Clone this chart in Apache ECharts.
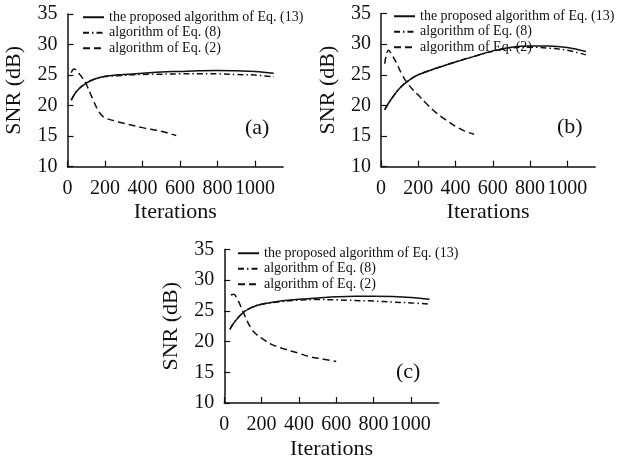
<!DOCTYPE html>
<html><head><meta charset="utf-8">
<script src="https://cdn.jsdelivr.net/npm/echarts@6/dist/echarts.min.js"></script>
<style>html,body{margin:0;padding:0;background:#fff}#c{width:623px;height:461px}</style>
</head><body><div id="c"></div>
<script>
const seriesNames = ['the proposed algorithm of Eq. (13)', 'algorithm of Eq. (8)', 'algorithm of Eq. (2)'];
const xTicks = [0, 200, 400, 600, 800, 1000];
const yTicks = [10, 15, 20, 25, 30, 35];
const panelLabels = ['(a)', '(b)', '(c)'];

// panel (a)
const aPropX = [20, 50, 100, 150, 200, 300, 400, 500, 600, 700, 800, 900, 1000, 1100];
const aPropY = [20.9, 22.4, 23.7, 24.4, 24.8, 25.1, 25.3, 25.5, 25.6, 25.7, 25.75, 25.7, 25.6, 25.3];
const aEq8X = [20, 50, 100, 150, 200, 300, 400, 500, 600, 700, 800, 900, 1000, 1100];
const aEq8Y = [20.9, 22.4, 23.7, 24.4, 24.75, 24.95, 25.1, 25.15, 25.2, 25.2, 25.2, 25.1, 25.0, 24.7];
const aEq2X = [20, 35, 60, 80, 100, 120, 140, 160, 180, 200, 250, 300, 400, 500, 580];
const aEq2Y = [25.4, 26.0, 25.3, 24.5, 23.5, 22.1, 20.7, 19.4, 18.5, 18.0, 17.5, 17.1, 16.4, 15.8, 15.1];

// panel (b)
const bPropX = [20, 50, 100, 150, 200, 300, 400, 500, 600, 700, 800, 900, 1000, 1100];
const bPropY = [19.3, 20.8, 22.8, 24.1, 25.0, 26.1, 27.1, 28.0, 28.9, 29.5, 29.7, 29.7, 29.45, 28.8];
const bEq8X = [20, 50, 100, 150, 200, 300, 400, 500, 600, 700, 800, 900, 1000, 1100];
const bEq8Y = [19.3, 20.8, 22.8, 24.1, 25.0, 26.1, 27.1, 28.0, 28.85, 29.4, 29.5, 29.35, 29.0, 28.25];
const bEq2X = [20, 40, 60, 85, 110, 140, 170, 200, 250, 300, 350, 400, 450, 500];
const bEq2Y = [26.8, 29.0, 28.2, 26.8, 25.2, 23.7, 22.6, 21.7, 20.1, 18.7, 17.6, 16.6, 15.8, 15.3];

// panel (c)
const cPropX = [30, 50, 100, 150, 200, 300, 400, 500, 600, 700, 800, 900, 1000, 1100];
const cPropY = [22.0, 23.0, 24.7, 25.6, 26.1, 26.6, 26.9, 27.1, 27.3, 27.4, 27.4, 27.35, 27.2, 26.9];
const cEq8X = [30, 50, 100, 150, 200, 300, 400, 500, 600, 700, 800, 900, 1000, 1100];
const cEq8Y = [22.0, 23.0, 24.7, 25.6, 26.1, 26.5, 26.75, 26.85, 26.8, 26.7, 26.6, 26.45, 26.3, 26.1];
const cEq2X = [35, 50, 70, 100, 125, 150, 175, 200, 250, 300, 400, 450, 500, 600];
const cEq2Y = [27.6, 27.7, 26.9, 24.9, 23.2, 21.9, 21.1, 20.55, 19.6, 19.0, 18.1, 17.6, 17.3, 16.75];

const panels = [
  [[aPropX, aPropY], [aEq8X, aEq8Y], [aEq2X, aEq2Y]],
  [[bPropX, bPropY], [bEq8X, bEq8Y], [bEq2X, bEq2Y]],
  [[cPropX, cPropY], [cEq8X, cEq8Y], [cEq2X, cEq2Y]]
];

const FONT = 'Liberation Serif';
const INK = '#111';
const dashTypes = ['solid', [6, 3, 1.5, 3], [7, 4]];
const grids = [
  { left: 67.5, top: 14, width: 215.6, height: 152.7 },
  { left: 381, top: 13.5, width: 214.2, height: 153.2 },
  { left: 224.3, top: 249.5, width: 214.5, height: 153.8 }
];
const legendPos = [
  { left: 82, top: 9.5 },
  { left: 393, top: 8.5 },
  { left: 237, top: 245.5 }
];
const labelPos = [
  { left: 245, top: 117 },
  { left: 557, top: 116 },
  { left: 396, top: 361 }
];

const xAxes = grids.map((g, i) => ({
  type: 'value', gridIndex: i, min: 0, max: 1150,
  name: 'Iterations', nameLocation: 'middle', nameGap: 35,
  nameTextStyle: { fontFamily: FONT, fontSize: 22, color: INK },
  axisLine: { show: true, lineStyle: { color: INK, width: 1.5 } },
  axisTick: { show: true, inside: true, length: 6, customValues: xTicks, lineStyle: { color: INK, width: 1.2 } },
  axisLabel: {
    customValues: xTicks, hideOverlap: false, showMinLabel: true, showMaxLabel: true,
    formatter: v => String(v),
    fontFamily: FONT, fontSize: 20, color: INK, margin: 12
  },
  splitLine: { show: false }
}));
const yAxes = grids.map((g, i) => ({
  type: 'value', gridIndex: i, min: 10, max: 35, interval: 5,
  name: 'SNR (dB)', nameLocation: 'middle', nameGap: 42,
  nameTextStyle: { fontFamily: FONT, fontSize: 22, color: INK },
  axisLine: { show: true, lineStyle: { color: INK, width: 1.5 } },
  axisTick: { show: true, inside: true, length: 6, lineStyle: { color: INK, width: 1.2 } },
  axisLabel: { fontFamily: FONT, fontSize: 20, color: INK, margin: 10 },
  splitLine: { show: false }
}));

const series = [];
panels.forEach((p, i) => {
  p.forEach((xy, k) => {
    series.push({
      type: 'line', name: seriesNames[k], xAxisIndex: i, yAxisIndex: i,
      data: xy[0].map((x, j) => [x, xy[1][j]]),
      symbol: 'none', smooth: 0.4,
      lineStyle: { color: INK, width: 1.5, type: dashTypes[k] },
      itemStyle: { color: INK },
      z: 3 - k
    });
  });
});

const legends = legendPos.map(pos => ({
  data: seriesNames, orient: 'vertical', left: pos.left, top: pos.top,
  itemWidth: 21, itemHeight: 8, itemGap: 0, padding: 0,
  selectedMode: false,
  itemStyle: { opacity: 0 },
  textStyle: { fontFamily: FONT, fontSize: 14, color: INK, lineHeight: 15.5 }
}));

const titles = labelPos.map((pos, i) => ({
  text: panelLabels[i], left: pos.left, top: pos.top, padding: 0,
  textStyle: { fontFamily: FONT, fontSize: 22, fontWeight: 'normal', color: INK }
}));

const chart = echarts.init(document.getElementById('c'), null, { renderer: 'canvas' });
chart.setOption({
  backgroundColor: '#fff',
  animation: false,
  title: titles,
  legend: legends,
  grid: grids,
  xAxis: xAxes,
  yAxis: yAxes,
  series: series
});
</script></body></html>
